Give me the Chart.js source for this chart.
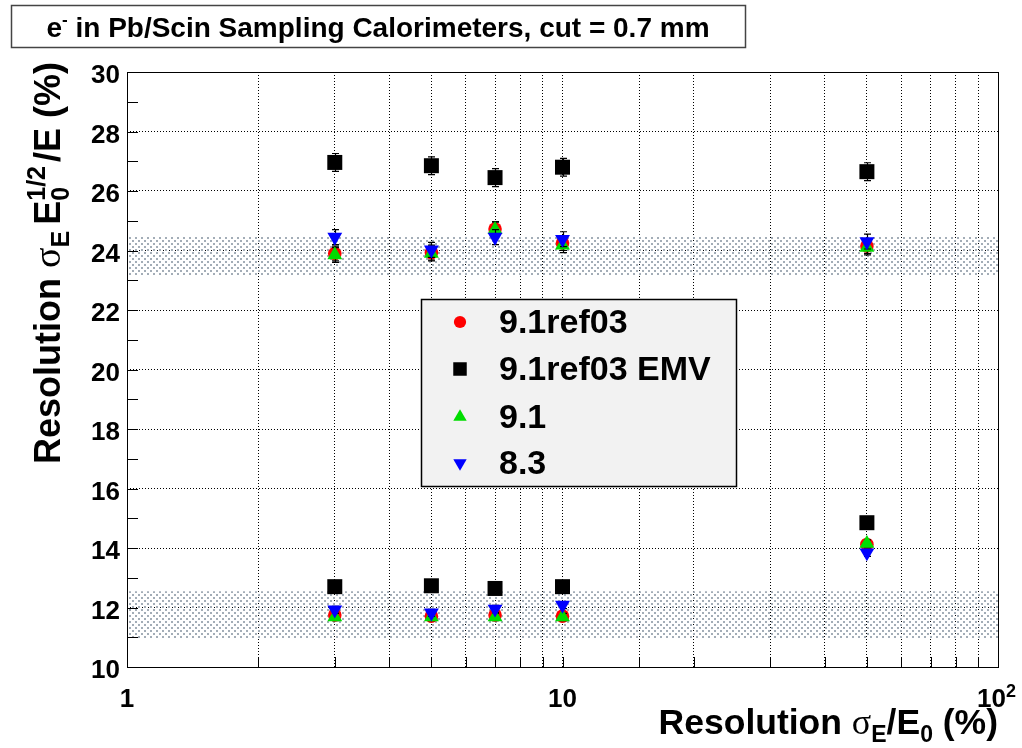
<!DOCTYPE html>
<html>
<head>
<meta charset="utf-8">
<script src="https://cdn.jsdelivr.net/npm/chart.js"></script>
<style>
  html, body { margin: 0; padding: 0; background: #ffffff; }
  #wrap { width: 1022px; height: 748px; }
</style>
</head>
<body>
<div id="wrap"><canvas id="c" width="1022" height="748"></canvas></div>
<script>
// ---------- data ----------
const xValues = [3, 5, 7, 10, 50];

const ref03Upper = [23.90, 23.93, 24.72, 24.25, 24.15];
const ref03Lower = [11.75, 11.71, 11.75, 11.71, 14.12];
const emvUpper   = [26.96, 26.85, 26.45, 26.80, 26.65];
const emvLower   = [12.70, 12.73, 12.64, 12.70, 14.85];
const v91Upper   = [23.85, 23.90, 24.70, 24.18, 24.10];
const v91Lower   = [11.68, 11.68, 11.68, 11.68, 14.15];
const v83Upper   = [24.45, 24.02, 24.45, 24.38, 24.30];
const v83Lower   = [11.92, 11.82, 11.95, 12.08, 13.84];

const errUpperEmv = [0.30, 0.30, 0.30, 0.30, 0.30];
const errUpper    = [0.25, 0.25, 0.25, 0.25, 0.25];
const errLower    = [0.12, 0.12, 0.12, 0.12, 0.12];

const bandX     = [1, 100];
const bandUpper = [23.15, 24.49];
const bandLower = [10.95, 12.55];

const seriesNames = ['9.1ref03', '9.1ref03 EMV', '9.1', '8.3'];
const yTickMin = 10, yTickMax = 30;
const xTickValues = [1, 10, 100];
const xTickLabels = ['1', '10', '10'];
const xTickExps   = ['', '', '2'];

// ---------- helpers ----------
function pts(xs, ys) { return xs.map((x, i) => ({ x: x, y: ys[i] })); }
function errs(a, b) { return a.concat(b); }

function makePattern() {
  const c = document.createElement('canvas');
  c.width = 6; c.height = 6;
  const g = c.getContext('2d');
  g.fillStyle = '#a3adb7';
  g.fillRect(0, 0, 2, 2);
  g.fillRect(3, 3, 2, 2);
  return document.getElementById('c').getContext('2d').createPattern(c, 'repeat');
}
const pattern = makePattern();

const FONT = '"Liberation Sans", Arial, Helvetica, sans-serif';
const SYM = '"Liberation Serif", "DejaVu Serif", serif';

function segFont(s) {
  return (s.w || 'bold') + ' ' + s.s + 'px ' + (s.f || FONT);
}
function segWidth(ctx, s) {
  if (s.gap) return s.gap;
  if (s.stack) {
    let m = 0;
    ctx.font = segFont(s);
    s.stack.forEach(p => { m = Math.max(m, ctx.measureText(p.t).width); });
    return m;
  }
  ctx.font = segFont(s);
  return ctx.measureText(s.t).width;
}
function richWidth(ctx, segs) {
  return segs.reduce((w, s) => w + segWidth(ctx, s), 0);
}
function richDraw(ctx, segs, x, y) {
  let cx = x;
  segs.forEach(s => {
    if (s.gap) { cx += s.gap; return; }
    ctx.font = segFont(s);
    if (s.stack) {
      s.stack.forEach(p => ctx.fillText(p.t, cx, y + (p.dy || 0)));
    } else {
      ctx.fillText(s.t, cx, y + (s.dy || 0));
    }
    cx += segWidth(ctx, s);
  });
}

const markerStyles = [
  { color: '#ff0000', style: 'circle', radius: 6.8, rotation: 0 },
  { color: '#000000', style: 'rect', radius: 10.6, rotation: 0 },
  { color: '#00dd00', style: 'triangle', radius: 8.6, rotation: 0 },
  { color: '#0000ff', style: 'triangle', radius: 8.6, rotation: 180 }
];

function markerDataset(label, data, ms, order, errors) {
  return {
    label: label,
    data: data,
    errors: errors,
    pointStyle: ms.style,
    pointRadius: ms.radius,
    pointHoverRadius: ms.radius,
    rotation: ms.rotation,
    backgroundColor: ms.color,
    borderColor: ms.color,
    borderWidth: 0,
    showLine: false,
    order: order
  };
}

function bandDatasets(lohi) {
  return [
    { label: '_bandlo', data: pts(bandX, [lohi[0], lohi[0]]), showLine: true, borderWidth: 0,
      borderColor: 'rgba(0,0,0,0)', pointRadius: 0, fill: false, order: 20 },
    { label: '_bandhi', data: pts(bandX, [lohi[1], lohi[1]]), showLine: true, borderWidth: 0,
      borderColor: 'rgba(0,0,0,0)', pointRadius: 0, fill: '-1', backgroundColor: pattern, order: 20 }
  ];
}

const datasets = []
  .concat(bandDatasets(bandUpper))
  .concat(bandDatasets(bandLower))
  .concat([
    markerDataset(seriesNames[0], pts(xValues, ref03Upper).concat(pts(xValues, ref03Lower)), markerStyles[0], 4, errs(errUpper, errLower)),
    markerDataset(seriesNames[1], pts(xValues, emvUpper).concat(pts(xValues, emvLower)), markerStyles[1], 3, errs(errUpperEmv, errLower)),
    markerDataset(seriesNames[2], pts(xValues, v91Upper).concat(pts(xValues, v91Lower)), markerStyles[2], 2, errs(errUpper, errLower)),
    markerDataset(seriesNames[3], pts(xValues, v83Upper).concat(pts(xValues, v83Lower)), markerStyles[3], 1, errs(errUpper, errLower))
  ]);

// ---------- plugin: background, title, frame, ticks, axis titles, legend, error bars ----------
const decor = {
  id: 'decor',
  beforeDraw(chart) {
    const ctx = chart.ctx;
    ctx.save();
    ctx.fillStyle = '#ffffff';
    ctx.fillRect(0, 0, chart.width, chart.height);
    ctx.restore();
  },
  beforeDatasetDraw(chart, args) {
    const ds = chart.data.datasets[args.index];
    if (!ds.errors) return;
    const ctx = chart.ctx, xs = chart.scales.x, ys = chart.scales.y;
    ctx.save();
    ctx.strokeStyle = '#000000';
    ctx.lineWidth = 1.2;
    ds.data.forEach((p, i) => {
      const e = ds.errors[i];
      const px = Math.round(xs.getPixelForValue(p.x)) + 0.5;
      const y1 = ys.getPixelForValue(p.y - e);
      const y2 = ys.getPixelForValue(p.y + e);
      ctx.beginPath();
      ctx.moveTo(px, y1); ctx.lineTo(px, y2);
      ctx.moveTo(px - 3.5, y1); ctx.lineTo(px + 3.5, y1);
      ctx.moveTo(px - 3.5, y2); ctx.lineTo(px + 3.5, y2);
      ctx.stroke();
    });
    ctx.restore();
  },
  afterDraw(chart) {
    const ctx = chart.ctx, a = chart.chartArea;
    const xs = chart.scales.x, ys = chart.scales.y;
    ctx.save();
    // frame
    ctx.strokeStyle = '#000000';
    ctx.lineWidth = 1;
    ctx.setLineDash([]);
    ctx.strokeRect(Math.round(a.left) + 0.5, Math.round(a.top) + 0.5,
                   Math.round(a.right - a.left), Math.round(a.bottom - a.top));
    // inward ticks
    ctx.beginPath();
    ys.ticks.forEach(t => {
      const py = Math.round(ys.getPixelForValue(t.value)) + 0.5;
      ctx.moveTo(a.left, py); ctx.lineTo(a.left + 11, py);
    });
    xs.ticks.forEach(t => {
      const px = Math.round(xs.getPixelForValue(t.value)) + 0.5;
      ctx.moveTo(px, a.bottom); ctx.lineTo(px, a.bottom - 10);
    });
    ctx.stroke();

    // x tick labels (with exponent)
    ctx.fillStyle = '#000000';
    ctx.textBaseline = 'alphabetic';
    ctx.textAlign = 'left';
    xTickValues.forEach((v, i) => {
      const px = xs.getPixelForValue(v);
      ctx.font = 'bold 26px ' + FONT;
      const bw = ctx.measureText(xTickLabels[i]).width;
      const bx = xTickExps[i] ? px - bw / 2 - 6.5 : px - bw / 2;
      ctx.fillText(xTickLabels[i], bx, 707);
      if (xTickExps[i]) {
        ctx.font = 'bold 18px ' + FONT;
        ctx.fillText(xTickExps[i], bx + bw, 697);
      }
    });

    // title box
    ctx.fillStyle = '#ffffff';
    ctx.fillRect(11, 5, 735, 43);
    ctx.strokeStyle = '#444444';
    ctx.lineWidth = 1.5;
    ctx.strokeRect(11.5, 5.5, 734, 42);
    ctx.fillStyle = '#000000';
    const titleSegs = [
      { t: 'e', s: 28 },
      { t: '-', s: 17, dy: -12 },
      { t: ' in Pb/Scin Sampling Calorimeters, cut = 0.7 mm', s: 28 }
    ];
    const tw = richWidth(ctx, titleSegs);
    richDraw(ctx, titleSegs, 378 - tw / 2, 37);

    // x axis title (right aligned to the axis end)
    const xtSegs = [
      { t: 'Resolution ', s: 35.5 },
      { t: '\u03C3', s: 36, w: 'normal', f: SYM },
      { t: 'E', s: 23, dy: 8 },
      { t: '/E', s: 35.5 },
      { t: '0', s: 23, dy: 8 },
      { t: ' (%)', s: 35.5 }
    ];
    const xw = richWidth(ctx, xtSegs);
    richDraw(ctx, xtSegs, a.right - xw, 734);

    // y axis title (rotated, right aligned at the top)
    const ytSegs = [
      { t: 'Resolution ', s: 36 },
      { t: '\u03C3', s: 38, w: 'normal', f: SYM },
      { t: 'E', s: 25, dy: 9 },
      { gap: 6 },
      { t: 'E', s: 36 },
      { stack: [{ t: '0', dy: 9 }, { t: '1/2', dy: -15 }], s: 25 },
      { gap: 4 },
      { t: '/E (%)', s: 36 }
    ];
    const yw = richWidth(ctx, ytSegs);
    ctx.save();
    ctx.translate(60, 62);
    ctx.rotate(-Math.PI / 2);
    richDraw(ctx, ytSegs, -yw, 0);
    ctx.restore();

    // legend
    const lx = 421, ly = 299, lw = 315, lh = 187;
    ctx.fillStyle = '#f2f2f2';
    ctx.fillRect(lx, ly, lw, lh);
    ctx.strokeStyle = '#000000';
    ctx.lineWidth = 1.5;
    ctx.strokeRect(lx + 0.5, ly + 0.5, lw, lh);
    const rowY = [322, 369, 417, 463];
    for (let i = 0; i < 4; i++) {
      const ms = markerStyles[i];
      ctx.fillStyle = ms.color;
      ctx.strokeStyle = ms.color;
      if (Chart.helpers && Chart.helpers.drawPoint) {
        Chart.helpers.drawPoint(ctx, { pointStyle: ms.style, radius: ms.radius * 0.9, rotation: ms.rotation, borderWidth: 0 }, 460, rowY[i]);
      }
      ctx.fillStyle = '#000000';
      ctx.font = 'bold 34px ' + FONT;
      ctx.textBaseline = 'middle';
      ctx.fillText(seriesNames[i], 499, rowY[i] + 2);
    }
    ctx.restore();
  }
};

Chart.defaults.font.family = FONT;

new Chart(document.getElementById('c'), {
  type: 'scatter',
  data: { datasets: datasets },
  plugins: [decor],
  options: {
    responsive: false,
    animation: false,
    devicePixelRatio: 1,
    layout: { padding: { left: 0, top: 72, right: 24, bottom: 0 } },
    plugins: { legend: { display: false }, tooltip: { enabled: false }, title: { display: false } },
    scales: {
      x: {
        type: 'logarithmic',
        min: 1, max: 100,
        afterFit(scale) { scale.height = 81; },
        border: { display: false, dash: [1, 2] },
        grid: { color: '#000000', lineWidth: 1, drawTicks: false },
        ticks: {
          autoSkip: false,
          maxRotation: 0,
          callback() { return ''; }
        }
      },
      y: {
        type: 'linear',
        min: yTickMin, max: yTickMax,
        afterFit(scale) { scale.width = 127; },
        border: { display: false, dash: [1, 2] },
        grid: {
          drawTicks: false,
          lineWidth: 1,
          color(ctx) { return (ctx.tick && ctx.tick.value % 2 === 0) ? '#000000' : 'rgba(0,0,0,0)'; }
        },
        ticks: {
          stepSize: 1,
          autoSkip: false,
          padding: 7,
          labelOffset: 4,
          color: '#000000',
          font: { size: 26, weight: 'bold' },
          callback(value) { return value % 2 === 0 ? String(value) : ''; }
        }
      }
    }
  }
});
</script>
</body>
</html>
